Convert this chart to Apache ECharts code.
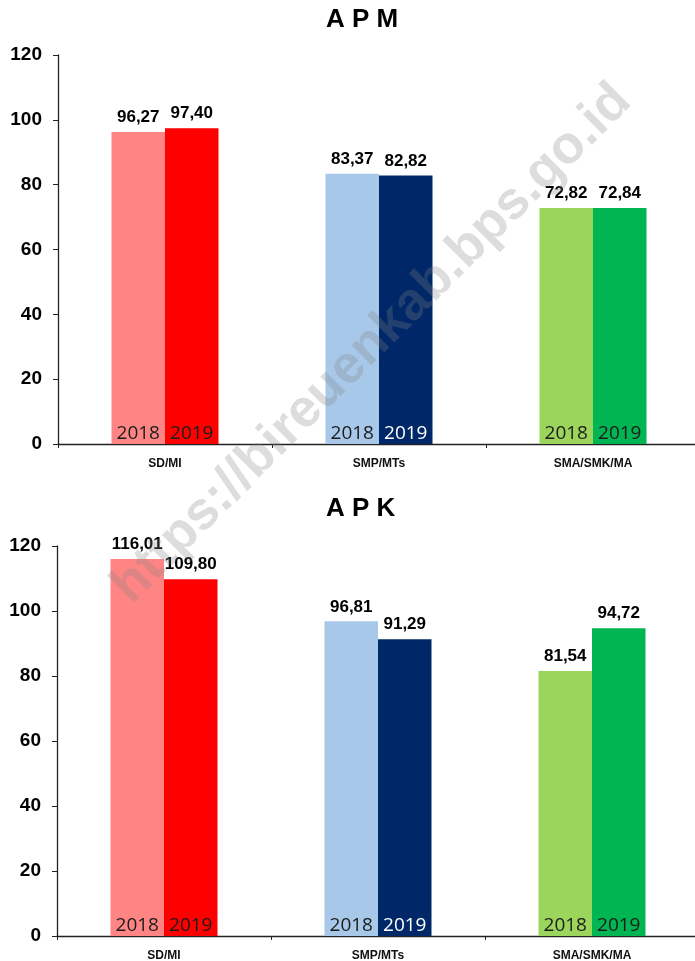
<!DOCTYPE html>
<html>
<head>
<meta charset="utf-8">
<script src="https://cdn.jsdelivr.net/npm/echarts@6/dist/echarts.min.js"></script>
<style>html,body{margin:0;padding:0;background:#fff;}#c{width:695px;height:961px;}</style>
</head>
<body>
<div id="c"></div>
<script>
const categories = ['SD/MI', 'SMP/MTs', 'SMA/SMK/MA'];
const years = ['2018', '2019'];
const apm2018 = [96.27, 83.37, 72.82];
const apm2019 = [97.40, 82.82, 72.84];
const apk2018 = [116.01, 96.81, 81.54];
const apk2019 = [109.80, 91.29, 94.72];
const yTicks = [0, 20, 40, 60, 80, 100, 120];
const titles = ['A P M', 'A P K'];
const watermarkText = 'https://bireuenkab.bps.go.id';

const colors2018 = ['#FF8585', '#A7C8E9', '#9CD55C'];
const colors2019 = ['#FF0000', '#002868', '#00B552'];
const yearColors2018 = ['#1c1c1c', '#1c1c1c', '#1c1c1c'];
const yearColors2019 = ['#1c1c1c', '#FFFFFF', '#1c1c1c'];

const fmt = v => v.toFixed(2).replace('.', ',');

const grids = [
  { left: 58, top: 55, width: 642, height: 389, outerBoundsMode: 'none', containLabel: false },
  { left: 57, top: 546, width: 642, height: 390, outerBoundsMode: 'none', containLabel: false }
];

function xAxisDef(gridIndex, visible) {
  return {
    type: 'category', gridIndex: gridIndex, data: categories, show: visible,
    axisLine: { show: true, lineStyle: { color: '#222', width: 1.3 } },
    axisTick: { show: true, length: 4, lineStyle: { color: '#222' } },
    axisLabel: { color: '#111', fontFamily: 'Liberation Sans, Arial', fontWeight: 'bold', fontSize: 12, margin: 14 }
  };
}
function yAxisDef(gridIndex) {
  return {
    type: 'value', gridIndex: gridIndex, min: yTicks[0], max: yTicks[yTicks.length - 1], interval: 20,
    axisLine: { show: true, lineStyle: { color: '#222', width: 1.3 } },
    axisTick: { show: true, length: 5, lineStyle: { color: '#222' } },
    splitLine: { show: false },
    axisLabel: { color: '#000', fontFamily: 'Liberation Sans, Arial', fontWeight: 'bold', fontSize: 19, margin: 16 }
  };
}

function valueSeries(name, vals, cols, xi, yi) {
  return {
    name: name, type: 'bar', xAxisIndex: xi, yAxisIndex: yi,
    barGap: '0%', barCategoryGap: '50%',
    data: vals.map((v, i) => ({ value: v, itemStyle: { color: cols[i] } })),
    label: {
      show: true, position: 'top', distance: 6, formatter: p => fmt(p.value),
      color: '#000', textBorderWidth: 0,
      fontFamily: 'Liberation Sans Narrow, Liberation Sans, Arial', fontWeight: 'bold', fontSize: 17
    },
    z: 2
  };
}
function yearSeries(name, vals, labelCols, xi, yi) {
  return {
    name: name, type: 'bar', xAxisIndex: xi, yAxisIndex: yi, silent: true,
    barGap: '0%', barCategoryGap: '50%',
    itemStyle: { color: 'rgba(0,0,0,0)' },
    data: vals.map((v, i) => ({ value: v, label: { color: labelCols[i] } })),
    label: {
      show: true, position: 'insideBottom', distance: 1, formatter: name,
      textBorderWidth: 0, textBorderColor: 'transparent',
      fontFamily: 'Open Sans, Liberation Sans', fontSize: 19
    },
    z: 3
  };
}

const option = {
  animation: false,
  backgroundColor: '#fff',
  title: [
    { text: titles[0], left: 321, top: 2, textStyle: { fontFamily: 'Liberation Sans, Arial', fontWeight: 'bold', fontSize: 26, color: '#000' } },
    { text: titles[1], left: 321, top: 491, textStyle: { fontFamily: 'Liberation Sans, Arial', fontWeight: 'bold', fontSize: 26, color: '#000' } }
  ],
  grid: grids,
  xAxis: [xAxisDef(0, true), xAxisDef(1, true), xAxisDef(0, false), xAxisDef(1, false)],
  yAxis: [yAxisDef(0), yAxisDef(1)],
  series: [
    valueSeries(years[0], apm2018, colors2018, 0, 0),
    valueSeries(years[1], apm2019, colors2019, 0, 0),
    valueSeries(years[0], apk2018, colors2018, 1, 1),
    valueSeries(years[1], apk2019, colors2019, 1, 1),
    yearSeries(years[0], apm2018, yearColors2018, 2, 0),
    yearSeries(years[1], apm2019, yearColors2019, 2, 0),
    yearSeries(years[0], apk2018, yearColors2018, 3, 1),
    yearSeries(years[1], apk2019, yearColors2019, 3, 1)
  ],
  graphic: [{
    type: 'text', x: 372, y: 344, rotation: Math.PI / 4, z: 100, silent: true,
    style: {
      text: watermarkText, fill: 'rgba(130,130,130,0.27)',
      font: 'bold 53px "Liberation Sans", Arial', align: 'center', verticalAlign: 'middle'
    }
  }]
};

const chart = echarts.init(document.getElementById('c'), null, { renderer: 'canvas' });
chart.setOption(option);
</script>
</body>
</html>
